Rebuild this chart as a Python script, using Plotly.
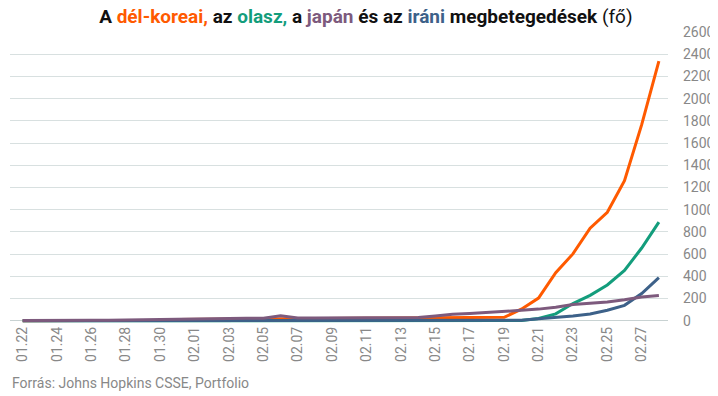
import plotly.graph_objects as go

dates = ["01.22","01.23","01.24","01.25","01.26","01.27","01.28","01.29","01.30","01.31",
         "02.01","02.02","02.03","02.04","02.05","02.06","02.07","02.08","02.09","02.10",
         "02.11","02.12","02.13","02.14","02.15","02.16","02.17","02.18","02.19","02.20",
         "02.21","02.22","02.23","02.24","02.25","02.26","02.27","02.28"]

korea = [1,1,2,2,3,4,4,4,4,11,12,15,15,16,19,23,24,24,25,27,28,28,28,28,28,29,30,31,31,104,
         204,433,602,833,977,1261,1766,2337]
italy = [0,0,0,0,0,0,0,0,0,2,2,2,2,2,2,2,3,3,3,3,3,3,3,3,3,3,3,3,3,3,
         20,62,155,229,322,453,655,888]
japan = [2,1,2,2,4,4,7,7,11,15,20,20,20,22,22,45,25,25,26,26,26,28,28,29,43,59,66,74,84,94,
         105,122,147,159,170,189,214,228]
iran = [0]*28 + [2,5,18,28,43,61,95,139,245,388]

y_ticks = list(range(0, 2601, 200))

x = list(range(len(dates)))

series = [
    ("Dél-Korea", korea, "#ff5a00"),
    ("Olaszország", italy, "#139d7c"),
    ("Irán", iran, "#3d6189"),
    ("Japán", japan, "#7d5a7d"),
]

fig = go.Figure()
for name, vals, col in series:
    fig.add_trace(go.Scatter(x=x, y=vals, mode="lines", name=name,
                             line=dict(color=col, width=3), hoverinfo="y"))

title = ("<b>A <span style='color:#ff5a00'>dél-koreai,</span> az "
         "<span style='color:#139d7c'>olasz,</span> a "
         "<span style='color:#7d5a7d'>japán</span> és az "
         "<span style='color:#3d6189'>iráni</span> megbetegedések</b> (fő)")

# page body has an 8px default margin, so the figure is 8px smaller and shifted
fig.update_layout(
    width=710, height=388,
    margin=dict(l=2, r=50, t=23.5, b=73),
    paper_bgcolor="white", plot_bgcolor="white",
    showlegend=False,
    font=dict(family="Roboto", color="#888888", size=14),
    title=dict(text=title, x=0.504, xref="container", xanchor="center",
               y=0.979, yref="container", yanchor="middle",
               font=dict(family="Roboto", size=19, color="#111111")),
    xaxis=dict(range=[-0.74, 37.53], tickmode="array", automargin=False,
               tickvals=x[::2], ticktext=dates[::2], tickangle=-90,
               showgrid=False, zeroline=False, showline=False, ticks="",
               tickfont=dict(size=14, color="#888888")),
    yaxis=dict(side="right", range=[-20, 2600], tickmode="array", automargin=False,
               tickvals=y_ticks, ticktext=[str(v) for v in y_ticks],
               showgrid=True, gridcolor="#d8e0e0", gridwidth=1,
               zeroline=True, zerolinecolor="#c8d2d2", zerolinewidth=1,
               showline=False, ticks="", ticklabelstandoff=14,
               tickfont=dict(size=14, color="#888888")),
    annotations=[dict(text="Forrás: Johns Hopkins CSSE, Portfolio", xref="paper", yref="paper",
                      x=0, xshift=0, y=0, yshift=-60, xanchor="left", yanchor="middle",
                      showarrow=False, font=dict(size=14, color="#888888", family="Roboto"))],
)

fig.write_html("out.html")
